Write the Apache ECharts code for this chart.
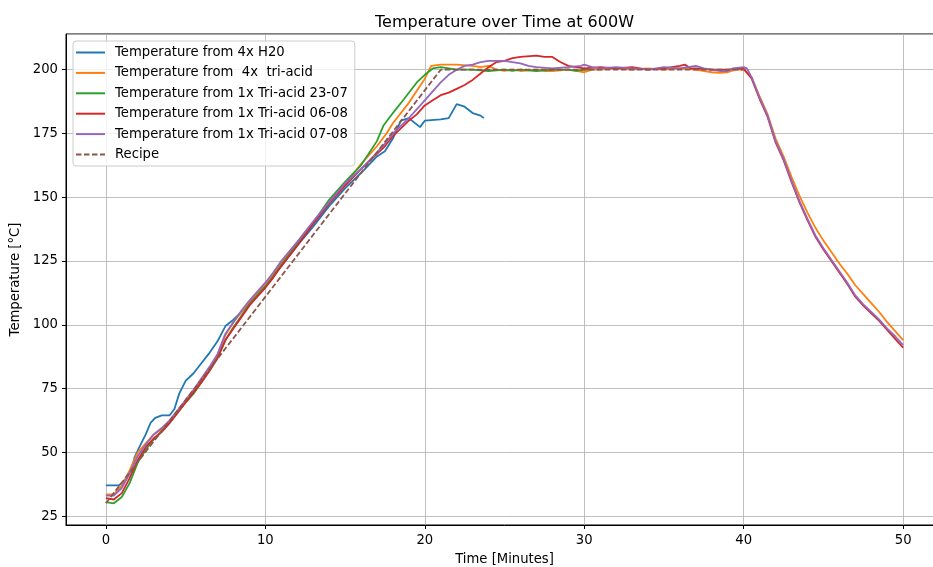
<!DOCTYPE html>
<html><head><meta charset="utf-8">
<script src="https://cdn.jsdelivr.net/npm/echarts@6/dist/echarts.min.js"></script>
<style>html,body{margin:0;padding:0;overflow:hidden;background:#fff}#c{width:943px;height:567px}</style>
</head><body><div id="c"></div><script>
// ---- data: [time (min), temperature (°C)] ----
const seriesNames = ['Temperature from 4x H20', 'Temperature from  4x  tri-acid', 'Temperature from 1x Tri-acid 23-07', 'Temperature from 1x Tri-acid 06-08', 'Temperature from 1x Tri-acid 07-08', 'Recipe'];
const xTicks = [0, 10, 20, 30, 40, 50];
const yTicks = [25, 50, 75, 100, 125, 150, 175, 200];

const h2o = [[0,37],[0.8,37],[1,38],[1.3,39.5],[1.6,43],[1.8,48],[2.1,52],[2.5,57],[2.8,61.5],[3.1,63.5],[3.5,64.5],[4,64.5],[4.3,67],[4.6,73],[5,78],[5.5,81],[6,85],[6.5,89],[7,93.5],[7.5,99.5],[8,102],[8.5,105],[9,108.5],[9.5,112],[10,115],[11,123],[12,131],[13,138.5],[14,146.5],[15,153.5],[16,159.5],[17,166],[17.5,168],[18,173],[18.5,180],[19,181],[19.7,177.5],[20,180],[21,180.5],[21.5,181],[22,186.5],[22.5,185.5],[23,183],[23.5,182],[23.7,181]];

const triAcid4x = [[0,33.5],[0.5,33.5],[1,37],[1.5,43],[2,50],[2.5,53.5],[3,57],[3.5,59],[4,62],[4.5,66],[5,70],[5.5,74],[6,78.5],[6.5,83],[7,88],[7.5,96],[8,101],[8.5,105],[9,109],[9.5,112.5],[10,116],[10.5,120],[11,124.5],[12,132],[13,140],[14,148],[15,155],[16,163],[17,170],[17.6,175],[18,179],[19,187],[20,196.5],[20.4,201.5],[21,202],[22,202],[23,201.5],[23.5,201],[24,201.5],[24.5,200],[25,199.5],[25.5,200],[26,199.5],[27,200],[27.5,199.5],[28,199.5],[29,200],[29.5,199.5],[30,199],[30.5,200],[31,200],[32,200.5],[33,200],[34,200.5],[35,200],[36,200.5],[37,200],[38,199],[38.5,198.8],[39,199],[39.5,200],[40,200],[40.5,197],[41,189.5],[41.5,182.5],[42,173],[42.5,166],[43,158],[43.5,150.5],[44,144],[44.5,138],[45,133],[45.5,128.5],[46,124],[46.5,120],[47,115.5],[47.5,112],[48,108.5],[48.5,105],[49,101],[49.5,97.5],[50,94]];

const tri2307 = [[0,30.5],[0.5,30],[1,32.5],[1.5,38],[2,46],[2.5,51],[3,55],[3.5,58],[4,61.5],[4.5,65.5],[5,69.5],[5.5,73],[6,77.5],[6.5,82],[7,87],[7.5,94],[8,99],[8.5,103.5],[9,108],[9.5,111.5],[10,115],[10.5,119],[11,123.5],[12,131.5],[13,140],[14,149],[15,156],[16,162.5],[17,172],[17.4,178],[18,183],[18.7,188.5],[19.5,195],[20,198],[20.5,200.5],[21,201],[21.5,200.5],[22,200],[23,200],[24,199.5],[25,200],[25.5,199.5],[26,200],[27,199.5],[28,200],[29,200],[29.5,199.5],[30,200],[30.3,200]];

const tri0608 = [[0,32],[0.5,31.5],[1,34],[1.5,40],[2,47],[2.5,52],[3,55.5],[3.5,58],[4,61.5],[4.5,65.5],[5,69.5],[5.5,73.5],[6,77.5],[6.5,82],[7,87],[7.5,94],[8,98.5],[8.5,103],[9,107.5],[9.5,111],[10,114.5],[10.5,118.5],[11,123],[12,131],[13,139.5],[14,147.5],[15,154.5],[16,161],[17,167],[17.5,170],[18,174],[18.5,177],[19,180],[19.5,182.5],[20,186],[20.5,188],[21,190],[21.5,191],[22,192.5],[22.5,194],[23,196],[23.5,198.5],[24,201],[24.5,203],[25,203.5],[25.5,204.5],[26,205],[27,205.5],[27.5,205],[28,205],[28.5,203],[29,201.5],[29.5,201],[30,200.5],[31,201],[32,200.5],[33,201],[34,200],[35,200.5],[36,201.5],[36.3,202],[36.7,200.5],[37,200.5],[38,200],[39,200],[40,200.5],[40.5,196.5],[41,188.5],[41.5,181.5],[42,171.5],[42.5,164.5],[43,156],[43.5,148],[44,141],[44.5,134.5],[45,129.5],[45.5,125],[46,120.5],[46.5,116],[47,111],[47.5,107.5],[48,104.5],[48.5,101.5],[49,98],[49.5,94.5],[50,91]];

const tri0708 = [[0,33],[0.5,33],[1,36],[1.5,42],[2,48.5],[2.5,53],[3,57],[3.5,59.5],[4,62.5],[4.5,66.5],[5,70.5],[5.5,74.5],[6,79],[6.5,83.5],[7,88.5],[7.5,96.5],[8,101],[8.5,105.5],[9,109.5],[9.5,113],[10,116.5],[10.5,120.5],[11,125],[12,132.5],[13,140.5],[14,148],[15,155.5],[16,161],[17,167.5],[17.5,171],[18,175],[18.5,178],[19,181],[19.5,184.5],[20,188],[20.5,191.5],[21,195],[21.5,198],[22,200],[22.5,201.5],[23,202],[23.5,203],[24,203.5],[25,203.5],[25.5,203],[26,202.5],[26.5,201.5],[27,201],[28,200.5],[29,201],[29.8,201.5],[30,202],[30.5,201],[31,200.5],[32,201],[33,200.5],[34,200],[35,201],[36,200.5],[37,201.5],[37.5,200.5],[38,200],[38.5,199.5],[39,199.5],[39.3,200.5],[40,201],[40.2,200.5],[40.5,197],[41,189],[41.5,182],[42,172],[42.5,165],[43,156.5],[43.5,148.5],[44,141.5],[44.5,135],[45,130],[45.5,125.5],[46,121],[46.5,116.5],[47,111.5],[47.5,108],[48,105],[48.5,102],[49,98.5],[49.5,95.5],[50,92]];

const recipe = [[0,30],[21,200],[40,200]];

const colors = ['#1f77b4', '#ff7f0e', '#2ca02c', '#d62728', '#9467bd', '#8c564b'];
const datasets = [h2o, triAcid4x, tri2307, tri0608, tri0708, recipe];

const font = 'DejaVu Sans';
const fs = 13.2;
const chart = echarts.init(document.getElementById('c'), null, {renderer: 'canvas'});

const series = datasets.map((d, i) => ({
  name: seriesNames[i],
  type: 'line',
  data: d,
  symbol: 'none',
  showSymbol: false,
  smooth: false,
  lineStyle: {color: colors[i], width: 1.8, type: i === 5 ? [5.5, 2.5] : 'solid'},
  itemStyle: {color: colors[i]},
  emphasis: {disabled: true},
  z: 2 + i
}));

chart.setOption({
  animation: false,
  backgroundColor: '#fff',
  title: {
    text: 'Temperature over Time at 600W',
    left: 370, top: 10,
    textStyle: {fontFamily: font, fontSize: 16, fontWeight: 'normal', color: '#000'}
  },
  legend: {
    orient: 'vertical', left: 73, top: 41,
    padding: [5, 7, 5, 2],
    itemWidth: 29, itemHeight: 14, itemGap: 7.4,
    backgroundColor: 'rgba(255,255,255,0.8)',
    borderColor: '#cccccc', borderWidth: 1, borderRadius: 3,
    itemStyle: {opacity: 0},
    textStyle: {fontFamily: font, fontSize: fs, color: '#000', padding: [0, 0, 0, 5]},
    data: seriesNames,
    selectedMode: false
  },
  grid: {left: 66, right: 0, top: 34, bottom: 42, show: true, borderColor: '#000', borderWidth: 1, containLabel: false, outerBoundsMode: 'none'},
  xAxis: {
    type: 'value', min: -2.5, max: 52.5, minInterval: 10, maxInterval: 10,
    name: 'Time [Minutes]', nameLocation: 'middle', nameGap: 28,
    nameTextStyle: {fontFamily: font, fontSize: fs, color: '#000'},
    axisLine: {show: true, onZero: false, lineStyle: {color: '#000', width: 1}},
    axisTick: {show: true, length: 4, lineStyle: {color: '#000'}},
    axisLabel: {margin: 9, showMinLabel: false, showMaxLabel: false, fontFamily: font, fontSize: fs, color: '#000',
      formatter: v => xTicks.indexOf(v) >= 0 ? String(v) : ''},
    splitLine: {show: true, lineStyle: {color: '#b0b0b0', width: 0.8}}
  },
  yAxis: {
    type: 'value', min: 21.5, max: 214, minInterval: 25, maxInterval: 25,
    name: 'Temperature [°C]', nameLocation: 'middle', nameGap: 40,
    nameTextStyle: {fontFamily: font, fontSize: fs, color: '#000'},
    axisLine: {show: true, onZero: false, lineStyle: {color: '#000', width: 1}},
    axisTick: {show: true, length: 4, lineStyle: {color: '#000'}},
    axisLabel: {margin: 8, showMinLabel: false, showMaxLabel: false, fontFamily: font, fontSize: fs, color: '#000',
      formatter: v => yTicks.indexOf(v) >= 0 ? String(v) : ''},
    splitLine: {show: true, lineStyle: {color: '#b0b0b0', width: 0.8}}
  },
  series: series
});
</script></body></html>
